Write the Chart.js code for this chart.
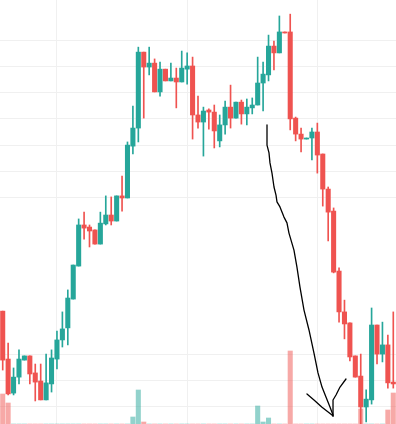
<!DOCTYPE html>
<html>
<head>
<meta charset="utf-8">
<script src="https://cdn.jsdelivr.net/npm/chart.js@4.4.0/dist/chart.umd.min.js"></script>
<style>
    body { margin: 0; background: #ffffff; }
    #contentChart { width: 396px; height: 424px; }
</style>
</head>
<body>
<div id="contentChart"><canvas id="chartVelas"></canvas></div>
<script>
// velas (indice 0..72)
var aperturas = [46.6, 28.3, 15.3, 21.4, 27.9, 29.5, 23.0, 19.9, 12.7, 18.8, 28.3, 35.6, 40.2, 51.2, 63.8, 79.5, 78.7, 77.6, 72.2, 79.9,
    83.3, 81.0, 90.6, 89.8, 109.6, 116.5, 145.5, 139.8, 141.3, 130.3, 139.0, 134.5, 135.6, 134.1, 139.0, 140.2, 121.5, 118.8, 123.4, 122.6,
    111.6, 117.7, 124.5, 120.3, 126.4, 121.9, 124.2, 125.3, 133.7, 136.8, 147.8, 145.2, 153.2, 153.2, 120.3, 114.2, 112.3, 112.7, 115.0, 106.6,
    93.2, 84.8, 61.9, 46.3, 42.1, 29.5, 21.8, 10.0, 12.7, 41.3, 30.2, 33.7, 19.5]
var cierres = [27.9, 15.0, 21.4, 28.3, 29.5, 22.6, 19.5, 12.7, 19.2, 28.7, 35.6, 39.8, 51.6, 64.2, 79.5, 78.3, 77.2, 72.2, 80.2, 83.3,
    81.0, 90.6, 89.8, 110.0, 116.5, 145.5, 139.8, 141.3, 130.3, 139.0, 134.5, 135.6, 134.1, 139.4, 140.2, 121.5, 118.8, 123.0, 122.6, 115.4,
    117.7, 124.5, 120.3, 126.4, 121.9, 124.5, 125.3, 133.7, 137.1, 147.8, 145.2, 153.2, 152.8, 120.0, 114.2, 112.3, 112.7, 115.0, 106.2, 93.2,
    84.4, 61.5, 46.3, 41.7, 29.1, 21.4, 10.0, 13.0, 41.3, 30.2, 33.7, 19.2, 18.8]
var maximos = [46.6, 34.4, 24.9, 31.8, 29.5, 29.5, 26.4, 26.4, 30.2, 31.8, 39.0, 46.3, 54.7, 64.2, 81.8, 84.4, 79.5, 77.6, 84.4, 90.6,
    90.2, 90.6, 98.2, 111.2, 124.9, 147.4, 145.5, 147.4, 142.9, 141.7, 139.0, 141.3, 139.4, 145.9, 145.2, 143.6, 128.7, 124.5, 123.8, 125.3,
    121.5, 126.8, 132.9, 126.4, 127.2, 127.6, 128.0, 143.6, 141.7, 152.0, 149.7, 159.3, 153.2, 160.0, 120.7, 116.5, 112.7, 116.5, 118.4, 106.6,
    94.0, 86.0, 63.1, 50.8, 42.1, 29.5, 30.2, 16.5, 47.8, 41.3, 42.4, 37.5, 46.3]
var minimos = [24.1, 14.6, 14.6, 18.8, 27.9, 18.8, 12.3, 12.7, 12.7, 15.7, 24.5, 32.9, 33.7, 51.2, 63.8, 74.1, 71.1, 72.2, 72.2, 79.5,
    79.5, 81.0, 84.8, 89.8, 106.6, 111.2, 120.3, 136.8, 130.3, 128.7, 134.5, 134.5, 124.2, 134.1, 133.3, 112.3, 116.5, 105.8, 116.1, 108.9,
    109.3, 114.2, 116.5, 120.3, 118.0, 117.7, 121.9, 125.3, 123.0, 134.5, 138.7, 145.2, 152.8, 115.8, 111.6, 107.4, 112.3, 104.3, 99.3, 86.7,
    73.4, 61.2, 42.4, 36.0, 27.6, 21.4, 3.6, 4.3, 11.1, 26.4, 27.2, 17.2, 17.2]
// volumen en miles
var volumenes = [30, 21, 0, 0, 0, 0, 0, 0, 0, 0, 0, 0, 0, 0, 0, 0, 0, 0, 0, 0,
    0, 0, 0, 0, 7, 34, 2, 0, 0, 0, 0, 0, 0, 0, 0, 0, 0, 0, 0, 0,
    0, 0, 0, 0, 0, 0, 0, 18, 2, 6, 0, 0, 0, 73, 0, 0, 0, 0, 0, 0,
    0, 0, 0, 0, 0, 0, 15, 0, 0, 0, 0, 14, 31]

var lineasPrecio = [10, 20, 30, 90, 100, 110, 120, 130, 140, 150]
var lineasVela = [10, 34, 58]

// trazo a mano alzada (indice de vela, precio)
var trazoFlecha = [[48.72, 117.7], [48.72, 110.0], [49.09, 107.0], [49.27, 103.2], [49.64, 99.3], [50.01, 94.0], [50.38, 90.9],
    [50.56, 88.3], [51.11, 86.4], [51.85, 82.5], [52.40, 80.3], [52.77, 76.4], [53.69, 69.9], [54.24, 63.4], [54.80, 55.8],
    [55.54, 47.0], [56.46, 39.4], [57.38, 30.6], [58.12, 23.0], [58.86, 17.6], [59.59, 13.8], [60.33, 10.0], [60.89, 6.9]]
var puntaIzq = [[56.09, 14.95], [57.38, 12.66], [58.86, 9.9], [60.70, 6.9], [60.89, 6.55]]
var puntaDer = [[60.89, 6.55], [60.89, 12.66], [61.44, 14.57], [62.18, 17.6], [63.28, 20.68]]

var VERDE = '#26a69a'
var ROJO = '#ef5350'

var etiquetas = aperturas.map((v, i) => i)
var coloresVela = aperturas.map((o, i) => cierres[i] >= o ? VERDE : ROJO)
var coloresVolumen = aperturas.map((o, i) => cierres[i] >= o ? 'rgba(38, 166, 154, 0.5)' : 'rgba(239, 83, 80, 0.5)')

var pluginFlecha = {
    id: 'flecha',
    afterDatasetsDraw(chart) {
        let ctx = chart.ctx
        let sx = chart.scales.x
        let sy = chart.scales.y
        ctx.save()
        ctx.strokeStyle = '#000000'
        ctx.lineWidth = 1.3
        ctx.lineJoin = 'round'
        ctx.lineCap = 'round'
        ;[trazoFlecha, puntaIzq, puntaDer].forEach(trazo => {
            ctx.beginPath()
            trazo.forEach((p, i) => {
                let px = sx.getPixelForValue(p[0])
                let py = sy.getPixelForValue(p[1])
                if (i == 0) ctx.moveTo(px, py)
                else ctx.lineTo(px, py)
            })
            ctx.stroke()
        })
        ctx.restore()
    }
}

var chart = new Chart("chartVelas", {
    type: 'bar',
    data: {
        labels: etiquetas,
        datasets: [{
            label: 'volumen',
            data: volumenes,
            yAxisID: 'y2',
            backgroundColor: coloresVolumen,
            barThickness: 4.4,
            grouped: false,
            order: 3
        }, {
            label: 'mecha',
            data: minimos.map((l, i) => [l, maximos[i]]),
            backgroundColor: coloresVela,
            barThickness: 1,
            grouped: false,
            order: 2
        }, {
            label: 'cuerpo',
            data: aperturas.map((o, i) => [o, cierres[i]]),
            backgroundColor: coloresVela,
            barThickness: 4.4,
            minBarLength: 1,
            grouped: false,
            order: 1
        }]
    },
    options: {
        responsive: true,
        maintainAspectRatio: false,
        animation: false,
        layout: { padding: 0 },
        plugins: { legend: { display: false }, tooltip: { enabled: false } },
        scales: {
            x: {
                ticks: { display: false, autoSkip: false },
                grid: { offset: false, drawTicks: false, color: '#f0f0f0' },
                border: { display: false },
                afterBuildTicks: scale => { scale.ticks = lineasVela.map(v => ({ value: v })) }
            },
            y: {
                min: 3.5,
                max: 165.4,
                ticks: { display: false },
                grid: { drawTicks: false, color: '#f0f0f0' },
                border: { display: false },
                afterBuildTicks: scale => { scale.ticks = lineasPrecio.map(v => ({ value: v })) }
            },
            y2: {
                display: false,
                min: 0,
                max: 424
            }
        }
    },
    plugins: [pluginFlecha]
})
</script>
</body>
</html>
